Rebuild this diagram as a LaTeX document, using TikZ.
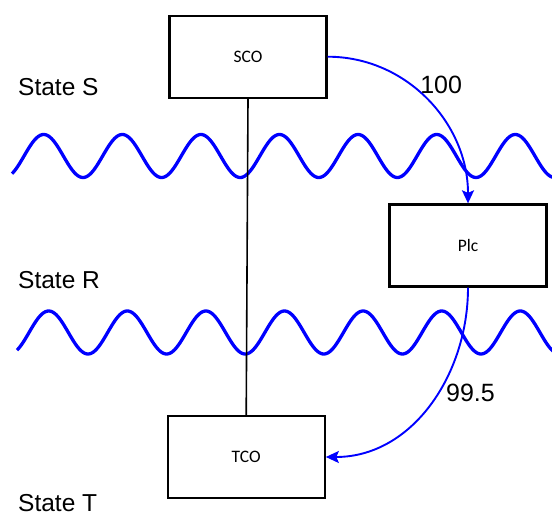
\documentclass[tikz,border=0pt]{standalone}
\usepackage{fontspec}
\setmainfont{Liberation Sans}
\newfontfamily\boxfont{Carlito}
\usetikzlibrary{arrows.meta}
\begin{document}
\begin{tikzpicture}[x=1pt,y=-1pt,
  boxnode/.style={draw=black, line width=2.3pt, fill=white, minimum width=157pt, minimum height=82pt, inner sep=0pt, font=\boxfont\fontsize{17.5}{20}\selectfont},
  statelabel/.style={anchor=base west, inner sep=0pt, font=\fontsize{24.5}{29}\selectfont},
  numlabel/.style={anchor=base, inner sep=0pt, font=\fontsize{25}{30}\selectfont},
  wave/.style={draw=blue, line width=3.3pt, line join=round},
  flowarrow/.style={draw=blue, line width=1.9pt, -{Stealth[length=13pt,width=12pt,inset=2.5pt]}},
  stem/.style={draw=black, line width=1.6pt}
]
\useasboundingbox (0,0) rectangle (552,516);

% waves
\draw[wave] plot[domain=12:554, samples=400] (\x, {156+21.5*cos(4.58015*(\x-83))});
\draw[wave] plot[domain=17:554, samples=400] (\x, {332.5+21.5*cos(4.58015*(\x-88))});

% boxes
\node[boxnode] (SCO) at (248,56.7) {SCO};
\node[boxnode] (Plc) at (468,245.5) {Plc};
\node[boxnode] (TCO) at (246.2,457) {TCO};

% stem
\draw[stem] (SCO.south) -- (TCO.north);

% arrows
\draw[flowarrow] (SCO.east) to[out=0,in=90] (Plc.north);
\draw[flowarrow] (Plc.south) to[out=-90,in=0] (TCO.east);

% labels
\node[numlabel] (l100) at (441.2,93.3) {100};
\node[numlabel] (l995) at (470.5,401.7) {99.5};

\node[statelabel] (stS) at (18,96) {State S};
\node[statelabel] (stR) at (18,288) {State R};
\node[statelabel] (stT) at (18,511) {State T};
\end{tikzpicture}
\end{document}
